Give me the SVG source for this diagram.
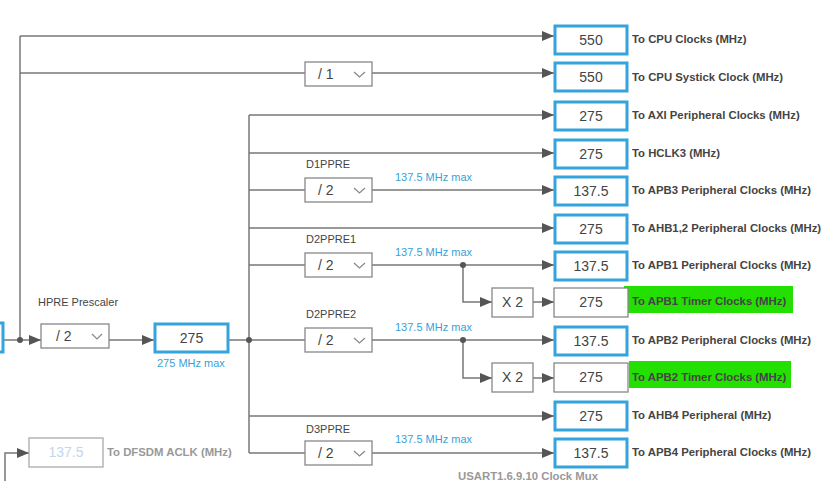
<svg xmlns="http://www.w3.org/2000/svg" width="840" height="481" viewBox="0 0 840 481">
<defs>
<marker id="ar" markerUnits="userSpaceOnUse" markerWidth="12" markerHeight="10" refX="12" refY="5" orient="auto">
<path d="M0,0 L12,5 L0,10 z" fill="#555"/>
</marker>
<style>
.ln{fill:none;stroke:#777;stroke-width:1.5}
.lna{fill:none;stroke:#777;stroke-width:1.5;marker-end:url(#ar)}
.dot{fill:#555}
.bb{fill:#fff;stroke:#34a4dc;stroke-width:3}
.gb{fill:#fff;stroke:#888;stroke-width:1.3}
.val{font-family:"Liberation Sans",Arial,sans-serif;font-size:14px;fill:#444;text-anchor:middle}
.div{font-family:"Liberation Sans",Arial,sans-serif;font-size:14px;fill:#444}
.chev{fill:none;stroke:#888;stroke-width:1.2}
.lbl{font-family:"Liberation Sans",Arial,sans-serif;font-size:11.35px;font-weight:bold;fill:#444}
.nm{font-family:"Liberation Sans",Arial,sans-serif;font-size:11px;fill:#444}
.mx{font-family:"Liberation Sans",Arial,sans-serif;font-size:11px;fill:#3a9fd8}
.grn{fill:#24e000}
</style>
</defs>
<rect width="840" height="481" fill="#fff"/>

<g id="connectors">
<polyline class="ln" points="20,340 20,36"/>
<line class="lna" x1="20" y1="36" x2="554" y2="36"/>
<line class="ln" x1="20" y1="73" x2="305" y2="73"/>
<line class="lna" x1="372" y1="73" x2="554" y2="73"/>
<line class="ln" x1="3" y1="340" x2="20" y2="340"/>
<line class="lna" x1="20" y1="340" x2="41" y2="340"/>
<line class="lna" x1="109" y1="340" x2="154" y2="340"/>
<line class="ln" x1="228" y1="340" x2="249" y2="340"/>
<line class="ln" x1="249" y1="115" x2="249" y2="453"/>
<line class="lna" x1="249" y1="115" x2="554" y2="115"/>
<line class="lna" x1="249" y1="153" x2="554" y2="153"/>
<line class="ln" x1="249" y1="190" x2="305" y2="190"/>
<line class="lna" x1="372" y1="190" x2="554" y2="190"/>
<line class="lna" x1="249" y1="228" x2="554" y2="228"/>
<line class="ln" x1="249" y1="265" x2="305" y2="265"/>
<line class="lna" x1="372" y1="265" x2="554" y2="265"/>
<polyline class="lna" points="463,265 463,302 492,302"/>
<line class="lna" x1="533" y1="302" x2="554" y2="302"/>
<line class="ln" x1="249" y1="340" x2="305" y2="340"/>
<line class="lna" x1="372" y1="340" x2="554" y2="340"/>
<polyline class="lna" points="463,340 463,378 492,378"/>
<line class="lna" x1="533" y1="378" x2="554" y2="378"/>
<line class="lna" x1="249" y1="416" x2="554" y2="416"/>
<line class="ln" x1="249" y1="453" x2="305" y2="453"/>
<line class="lna" x1="372" y1="453" x2="554" y2="453"/>
<polyline class="lna" points="5,481 5,453 29,453"/>
<circle class="dot" cx="20" cy="340" r="3"/>
<circle class="dot" cx="249" cy="340" r="3"/>
<circle class="dot" cx="463" cy="265" r="3"/>
<circle class="dot" cx="463" cy="340" r="3"/>
</g>

<g id="src">
<rect class="bb" x="-10" y="323" width="13" height="29"/>
</g>

<g id="hpre">
<text class="nm" x="38" y="306">HPRE Prescaler</text>
<rect class="gb" x="41" y="324" width="68" height="24"/>
<text class="div" x="56" y="341">/ 2</text>
<polyline class="chev" points="92,334 97,339 102,334"/>
</g>

<g id="ahb">
<rect class="bb" x="155" y="324" width="73" height="28"/>
<text class="val" x="191.5" y="343">275</text>
<text class="mx" x="157" y="367">275 MHz max</text>
</g>

<g id="systick-div">
<rect class="gb" x="305" y="62" width="67" height="24"/>
<text class="div" x="318" y="79">/ 1</text>
<polyline class="chev" points="354,72 359.5,77 365,72"/>
</g>

<g id="d1ppre">
<text class="nm" x="306" y="168">D1PPRE</text>
<rect class="gb" x="305" y="178" width="67" height="24"/>
<text class="div" x="318" y="195">/ 2</text>
<polyline class="chev" points="354,188 359.5,193 365,188"/>
<text class="mx" x="395" y="181">137.5 MHz max</text>
</g>

<g id="d2ppre1">
<text class="nm" x="306" y="243">D2PPRE1</text>
<rect class="gb" x="305" y="253" width="67" height="24"/>
<text class="div" x="318" y="270">/ 2</text>
<polyline class="chev" points="354,263 359.5,268 365,263"/>
<text class="mx" x="395" y="256">137.5 MHz max</text>
</g>

<g id="d2ppre2">
<text class="nm" x="306" y="318">D2PPRE2</text>
<rect class="gb" x="305" y="328" width="67" height="24"/>
<text class="div" x="318" y="345">/ 2</text>
<polyline class="chev" points="354,338 359.5,343 365,338"/>
<text class="mx" x="395" y="331">137.5 MHz max</text>
</g>

<g id="d3ppre">
<text class="nm" x="306" y="433">D3PPRE</text>
<rect class="gb" x="305" y="441" width="67" height="24"/>
<text class="div" x="318" y="458">/ 2</text>
<polyline class="chev" points="354,451 359.5,456 365,451"/>
<text class="mx" x="395" y="443">137.5 MHz max</text>
</g>

<g id="x2-apb1">
<rect class="gb" x="492" y="288" width="41" height="29"/>
<text class="val" x="512.5" y="307">X 2</text>
</g>
<g id="x2-apb2">
<rect class="gb" x="492" y="363" width="41" height="29"/>
<text class="val" x="512.5" y="382">X 2</text>
</g>

<g id="out-cpu">
<rect class="bb" x="555" y="26" width="72" height="28"/>
<text class="val" x="591" y="45">550</text>
<text class="lbl" x="632" y="43">To CPU Clocks (MHz)</text>
</g>
<g id="out-systick">
<rect class="bb" x="555" y="63" width="72" height="28"/>
<text class="val" x="591" y="82">550</text>
<text class="lbl" x="632" y="81">To CPU Systick Clock (MHz)</text>
</g>
<g id="out-axi">
<rect class="bb" x="555" y="102" width="72" height="28"/>
<text class="val" x="591" y="121">275</text>
<text class="lbl" x="632" y="119">To AXI Peripheral Clocks (MHz)</text>
</g>
<g id="out-hclk3">
<rect class="bb" x="555" y="140" width="72" height="28"/>
<text class="val" x="591" y="159">275</text>
<text class="lbl" x="632" y="157">To HCLK3 (MHz)</text>
</g>
<g id="out-apb3">
<rect class="bb" x="555" y="177" width="72" height="28"/>
<text class="val" x="591" y="196">137.5</text>
<text class="lbl" x="632" y="194">To APB3 Peripheral Clocks (MHz)</text>
</g>
<g id="out-ahb12">
<rect class="bb" x="555" y="215" width="72" height="28"/>
<text class="val" x="591" y="234">275</text>
<text class="lbl" x="632" y="232">To AHB1,2 Peripheral Clocks (MHz)</text>
</g>
<g id="out-apb1">
<rect class="bb" x="555" y="252" width="72" height="28"/>
<text class="val" x="591" y="271">137.5</text>
<text class="lbl" x="632" y="269">To APB1 Peripheral Clocks (MHz)</text>
</g>
<g id="out-apb1tim">
<rect class="grn" x="624" y="286" width="169" height="27"/>
<rect class="gb" x="554" y="288" width="74" height="29"/>
<text class="val" x="591" y="307">275</text>
<text class="lbl" x="632" y="305" fill="#333">To APB1 Timer Clocks (MHz)</text>
</g>
<g id="out-apb2">
<rect class="bb" x="555" y="327" width="72" height="28"/>
<text class="val" x="591" y="346">137.5</text>
<text class="lbl" x="632" y="344">To APB2 Peripheral Clocks (MHz)</text>
</g>
<g id="out-apb2tim">
<rect class="grn" x="629" y="361" width="162" height="27"/>
<rect class="gb" x="554" y="363" width="74" height="29"/>
<text class="val" x="591" y="382">275</text>
<text class="lbl" x="632" y="381" fill="#333">To APB2 Timer Clocks (MHz)</text>
</g>
<g id="out-ahb4">
<rect class="bb" x="555" y="402" width="72" height="28"/>
<text class="val" x="591" y="421">275</text>
<text class="lbl" x="632" y="419">To AHB4 Peripheral (MHz)</text>
</g>
<g id="out-apb4">
<rect class="bb" x="555" y="439" width="72" height="28"/>
<text class="val" x="591" y="458">137.5</text>
<text class="lbl" x="632" y="456">To APB4 Peripheral Clocks (MHz)</text>
</g>

<g id="dfsdm">
<rect x="29" y="438" width="74" height="29" fill="#fff" stroke="#aaa" stroke-width="1.3"/>
<text class="val" x="66" y="457" style="fill:#c4d6ea">137.5</text>
<text class="lbl" x="107" y="456" style="fill:#999">To DFSDM ACLK (MHz)</text>
</g>

<g id="usart-mux">
<text class="lbl" x="458" y="480" style="fill:#999">USART1.6.9.10 Clock Mux</text>
</g>
</svg>
